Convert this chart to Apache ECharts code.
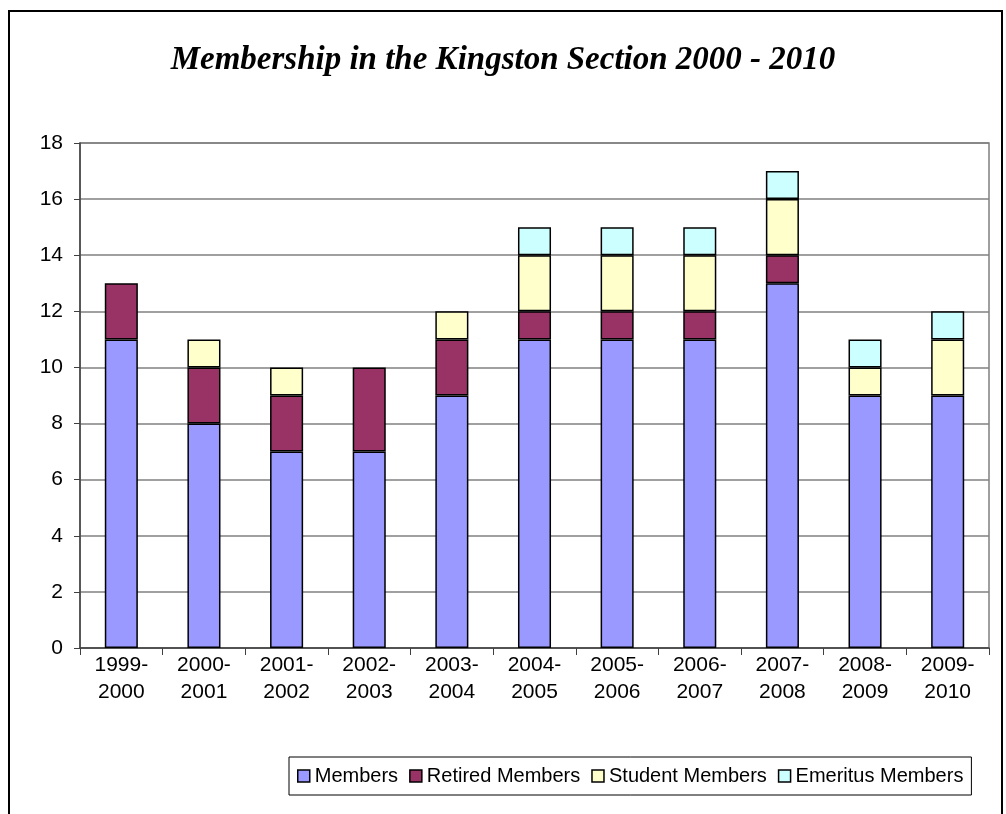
<!DOCTYPE html>
<html>
<head>
<meta charset="utf-8">
<title>Membership in the Kingston Section 2000 - 2010</title>
<script src="https://cdn.jsdelivr.net/npm/echarts@6/dist/echarts.min.js"></script>
<style>
    html, body {
        margin: 0;
        padding: 0;
        background: #ffffff;
    }
    #chart {
        width: 1006px;
        height: 814px;
    }
</style>
</head>
<body>
<div id="chart"></div>
<script>
const years = [
    '1999-\n2000', '2000-\n2001', '2001-\n2002', '2002-\n2003', '2003-\n2004', '2004-\n2005',
    '2005-\n2006', '2006-\n2007', '2007-\n2008', '2008-\n2009', '2009-\n2010',
];
const members = [11, 8, 7, 7, 9, 11, 11, 11, 13, 9, 9];
const retiredMembers = [2, 2, 2, 3, 2, 1, 1, 1, 1, 0, 0];
const studentMembers = [0, 1, 1, 0, 1, 2, 2, 2, 2, 1, 2];
const emeritusMembers = [0, 0, 0, 0, 0, 1, 1, 1, 1, 1, 1];
const yTicks = [0, 2, 4, 6, 8, 10, 12, 14, 16, 18];

const textFont = '"Liberation Sans", Arial, sans-serif';

// zero values are left out so no empty outlined segment is stroked on top of a stack
const makeSeries = (name, data, color) => ({
    name: name,
    type: 'bar',
    stack: 'total',
    data: data.map((v) => (v === 0 ? '-' : v)),
    barCategoryGap: '60%',
    itemStyle: {
        color: color,
        borderColor: '#000000',
        borderWidth: 1.5,
    },
    emphasis: { disabled: true },
});

const chart = echarts.init(document.getElementById('chart'));

chart.setOption({
    animation: false,
    title: {
        text: 'Membership in the Kingston Section 2000 - 2010',
        left: 'center',
        top: 39,
        textStyle: {
            fontFamily: '"Liberation Serif", "Times New Roman", serif',
            fontStyle: 'italic',
            fontWeight: 'bold',
            fontSize: 33,
            color: '#000000',
        },
    },
    graphic: [
        {
            // outer chart frame, cut off at right and bottom
            type: 'rect',
            silent: true,
            shape: { x: 9, y: 11, width: 993, height: 900 },
            style: { fill: 'none', stroke: '#000000', lineWidth: 2 },
        },
    ],
    legend: {
        left: 289,
        top: 757,
        itemWidth: 12,
        itemHeight: 12,
        itemGap: 11,
        icon: 'rect',
        padding: [9, 8, 9, 8],
        borderColor: '#000000',
        borderWidth: 1,
        textStyle: {
            fontFamily: textFont,
            fontSize: 20,
            color: '#000000',
        },
        itemStyle: {
            borderColor: '#000000',
            borderWidth: 1.5,
        },
        data: ['Members', 'Retired Members', 'Student Members', 'Emeritus Members'],
    },
    grid: {
        left: 80,
        right: 17,
        top: 143,
        bottom: 166,
        show: true,
        borderColor: '#808080',
        borderWidth: 1.5,
    },
    xAxis: {
        type: 'category',
        data: years,
        axisLine: { lineStyle: { color: '#404040', width: 1.5 } },
        axisTick: { show: true, length: 7, lineStyle: { color: '#404040' } },
        axisLabel: {
            fontFamily: textFont,
            fontSize: 21,
            lineHeight: 27,
            color: '#000000',
            margin: 4,
        },
    },
    yAxis: {
        type: 'value',
        min: yTicks[0],
        max: yTicks[yTicks.length - 1],
        interval: yTicks[1] - yTicks[0],
        axisLine: { show: true, lineStyle: { color: '#404040', width: 1.5 } },
        axisTick: { show: true, length: 6, lineStyle: { color: '#404040' } },
        splitLine: { lineStyle: { color: '#808080', width: 1.5 } },
        axisLabel: {
            fontFamily: textFont,
            fontSize: 21,
            color: '#000000',
            margin: 17,
        },
    },
    series: [
        makeSeries('Members', members, '#9999ff'),
        makeSeries('Retired Members', retiredMembers, '#993366'),
        makeSeries('Student Members', studentMembers, '#ffffcc'),
        makeSeries('Emeritus Members', emeritusMembers, '#ccffff'),
    ],
});
</script>
</body>
</html>
